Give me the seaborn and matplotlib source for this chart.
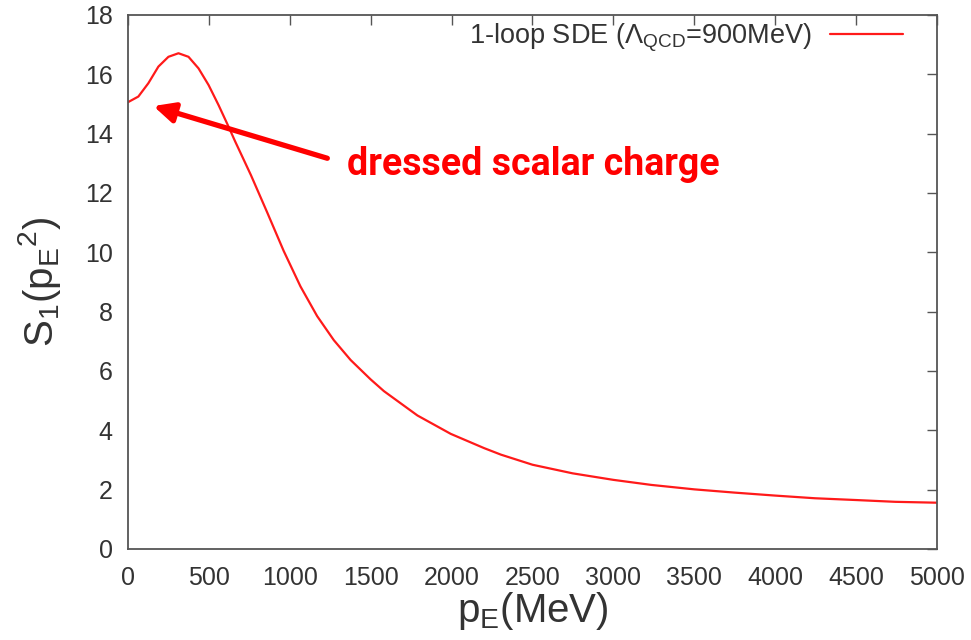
import matplotlib
matplotlib.use("Agg")
import matplotlib.pyplot as plt
import seaborn as sns
import pandas as pd

p_mev = [0, 64, 126, 188, 250, 312, 374, 436, 498, 560, 622, 663, 700, 760, 860, 962,
         1066, 1169, 1272, 1376, 1499, 1582, 1789, 1995, 2201, 2305, 2500, 2748, 3000,
         3234, 3500, 3750, 4000, 4246, 4500, 4742, 5000]
s1 = [15.06, 15.25, 15.70, 16.26, 16.59, 16.71, 16.59, 16.20, 15.64, 14.96, 14.23, 13.73,
      13.30, 12.60, 11.35, 10.05, 8.85, 7.85, 7.04, 6.37, 5.72, 5.32, 4.50, 3.88, 3.40,
      3.18, 2.84, 2.55, 2.33, 2.16, 2.01, 1.90, 1.80, 1.71, 1.65, 1.59, 1.56]
series_label = r"1-loop SDE ($\Lambda_{\rm QCD}$=900MeV)"
annotation_text = "dressed scalar charge"
x_ticks = [0, 500, 1000, 1500, 2000, 2500, 3000, 3500, 4000, 4500, 5000]
y_ticks = [0, 2, 4, 6, 8, 10, 12, 14, 16, 18]

sns.set_theme(style="white")
plt.rcParams['font.family'] = ['Liberation Sans', 'DejaVu Sans']
plt.rcParams['mathtext.fontset'] = 'custom'
plt.rcParams['mathtext.rm'] = 'Liberation Sans'
plt.rcParams['mathtext.it'] = 'Liberation Sans'

df = pd.DataFrame({"p": p_mev, "S": s1})

fig = plt.figure(figsize=(9.71, 6.40), dpi=100)
ax = fig.add_axes([0.1318, 0.1422, 0.8332, 0.8344])
sns.lineplot(data=df, x="p", y="S", ax=ax, color="#ff1a1a", linewidth=1.6, label=series_label)

ax.set_xlim(0, 5000)
ax.set_ylim(0, 18)
ax.set_xticks(x_ticks)
ax.set_yticks(y_ticks)
ax.tick_params(axis="both", direction="in", length=7, width=1, colors="#555555",
               labelcolor="#333333", labelsize=18, top=True, right=True)
ax.tick_params(axis="y", pad=11)
ax.tick_params(axis="x", pad=12)
for sp in ax.spines.values():
    sp.set_color("#555555")
    sp.set_linewidth(1.3)

ax.set_xlabel(r"p$_{\rm E}$(MeV)", fontsize=29, color="#333333", labelpad=0)
ax.set_ylabel(r"S$_1$(p$_{\rm E}$$^2$)", fontsize=29, color="#333333", labelpad=16)

leg = ax.legend(loc="upper right", bbox_to_anchor=(0.958, 0.989), frameon=False,
                fontsize=19.5, handlelength=2.7, markerfirst=False,
                borderaxespad=0, borderpad=0, handletextpad=0.67)
for t in leg.get_texts():
    t.set_color("#333333")

ax.annotate("", xy=(157, 14.93), xytext=(1232, 13.17),
            arrowprops=dict(arrowstyle="-|>,head_length=1.25,head_width=0.6",
                            mutation_scale=10, color="#ff0000", lw=3.8,
                            shrinkA=0, shrinkB=0))
ax.text(1351, 12.6, annotation_text, fontsize=27, fontweight="bold", color="#ff0000",
        family=["Roboto"], va="baseline", ha="left")

fig.savefig("out.png", dpi=100)
